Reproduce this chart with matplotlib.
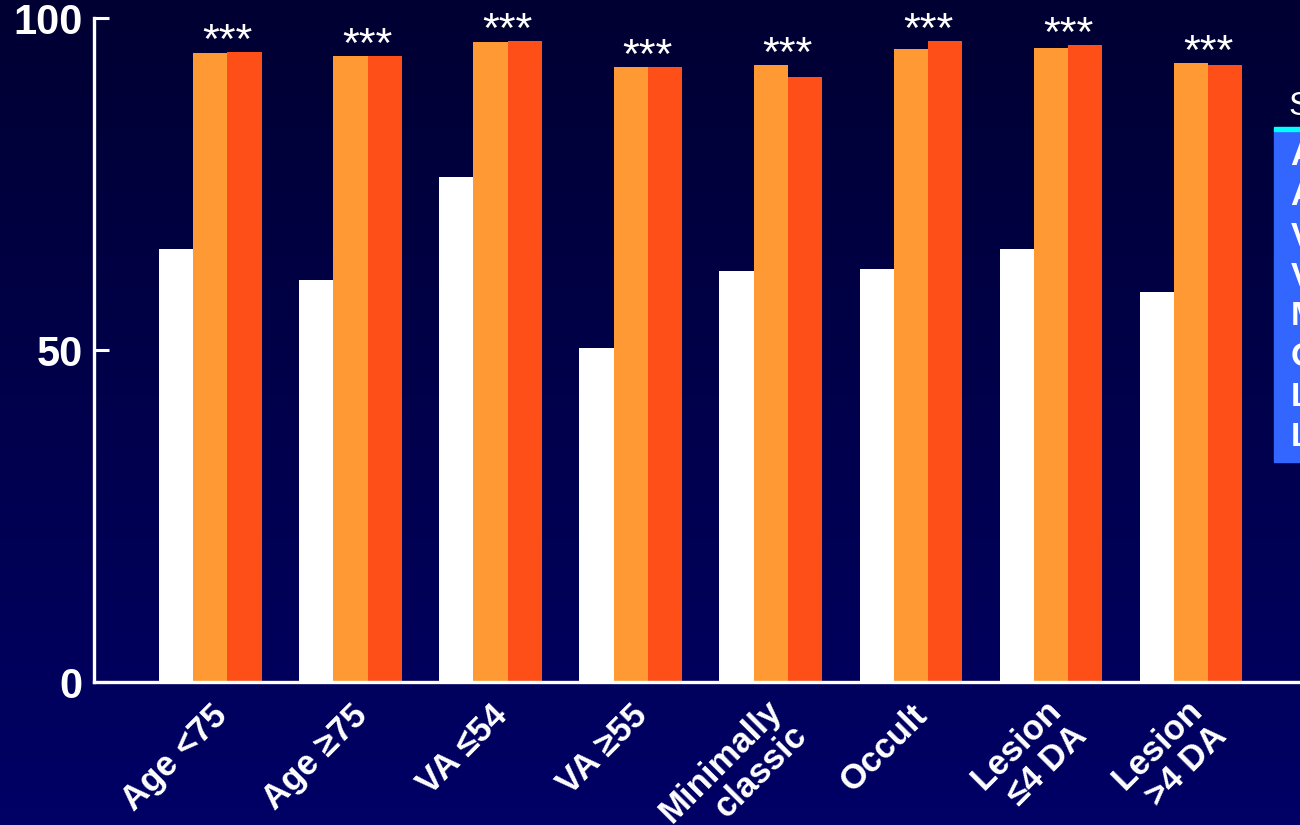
import numpy as np
import matplotlib.pyplot as plt
from matplotlib.patches import Rectangle
from matplotlib.transforms import ScaledTranslation

plt.rcParams['font.family'] = ['Liberation Sans', 'DejaVu Sans']

# subgroup labels and response rates (%) for the three arms
categories = ['Age <75', 'Age ≥75', 'VA ≤54', 'VA ≥55', 'Minimally\nclassic',
              'Occult', 'Lesion\n≤4 DA', 'Lesion\n>4 DA']
legend_items = ['Age <75', 'Age ≥75', 'VA ≤54', 'VA ≥55', 'Minimally classic',
                'Occult', 'Lesion ≤4 DA', 'Lesion >4 DA']
sham = [65.2, 60.5, 76.1, 50.3, 61.9, 62.2, 65.2, 58.7]
dose_low = [94.7, 94.3, 96.4, 92.6, 92.9, 95.3, 95.5, 93.2]
dose_high = [94.9, 94.3, 96.5, 92.6, 91.1, 96.5, 95.9, 92.9]
stars = ['***'] * len(categories)

W, H = 1300, 825
fig = plt.figure(figsize=(W / 100, H / 100), dpi=100)

# vertical navy gradient behind everything
bg = fig.add_axes([0, 0, 1, 1], zorder=0)
grad = np.linspace(0, 1, 256).reshape(-1, 1)
top = np.array([0, 0, 50]) / 255
bot = np.array([0, 0, 102]) / 255
img = top + (bot - top) * grad[:, :, None]
bg.imshow(img, aspect='auto', extent=[0, 1, 0, 1], origin='upper')
bg.axis('off')

left, bottom, top_px = 94, 682, 18
ax = fig.add_axes([left / W, 1 - bottom / H, (W - left) / W + 0.01, (bottom - top_px) / H], zorder=1)
ax.patch.set_alpha(0)

x = np.arange(len(categories))
bw = 0.244
ax.bar(x - bw, sham, bw, color='white', zorder=2)
ax.bar(x, dose_low, bw, color='#FF9933', zorder=2)
ax.bar(x + bw, dose_high, bw, color='#FF4F19', zorder=2)

for xi, a, b, s in zip(x, dose_low, dose_high, stars):
    ax.annotate(s, (xi + bw / 2, max(a, b)), xytext=(0, -7), textcoords='offset points',
                ha='center', va='bottom', color='white', fontsize=31)

ax.set_xlim(-0.83, 7.87)
ax.set_ylim(0, 100)
ax.set_yticks([0, 50, 100])
ax.set_yticklabels(['0', '50', '100'], fontsize=30, fontweight='bold', color='white')
zero = ax.get_yticklabels()[0]
zero.set_transform(zero.get_transform() + ScaledTranslation(0, -0.06, fig.dpi_scale_trans))
ax.set_xticks(x)
ax.set_xticklabels(categories, rotation=45, ha='right', va='top', rotation_mode='anchor',
                   multialignment='right', fontsize=25, fontweight='bold', color='white',
                   linespacing=1.1)
ax.tick_params(axis='x', length=0, pad=12)
ax.tick_params(axis='y', direction='in', length=11, width=2.2, color='white', pad=8)
for side in ['top', 'right']:
    ax.spines[side].set_visible(False)
for side in ['left', 'bottom']:
    ax.spines[side].set_color('white')
    ax.spines[side].set_linewidth(2.4)

# two-line labels sit a little up and to the left of their tick
for lab in ax.get_xticklabels():
    if '\n' in lab.get_text():
        lab.set_transform(lab.get_transform() + ScaledTranslation(-0.06, 0.05, fig.dpi_scale_trans))

# legend panel on the right edge, running off the canvas
fig.patches.append(Rectangle((1274 / W, 1 - 462 / H), 0.05, (462 - 130) / H,
                             transform=fig.transFigure, color='#3366FF', zorder=3))
fig.patches.append(Rectangle((1274 / W, 1 - 131 / H), 0.05, 4 / H,
                             transform=fig.transFigure, color='#00FFFF', zorder=3))
fig.text(1288 / W, 1 - 106 / H, 'Subgroup', color='white', fontsize=24,
         va='center', ha='left', zorder=4)
for i, item in enumerate(legend_items):
    fig.text(1291 / W, 1 - (157 + 40 * i) / H, item, color='white', fontsize=24,
             fontweight='bold', va='center', ha='left', zorder=4)

fig.savefig('out.png', dpi=100)
